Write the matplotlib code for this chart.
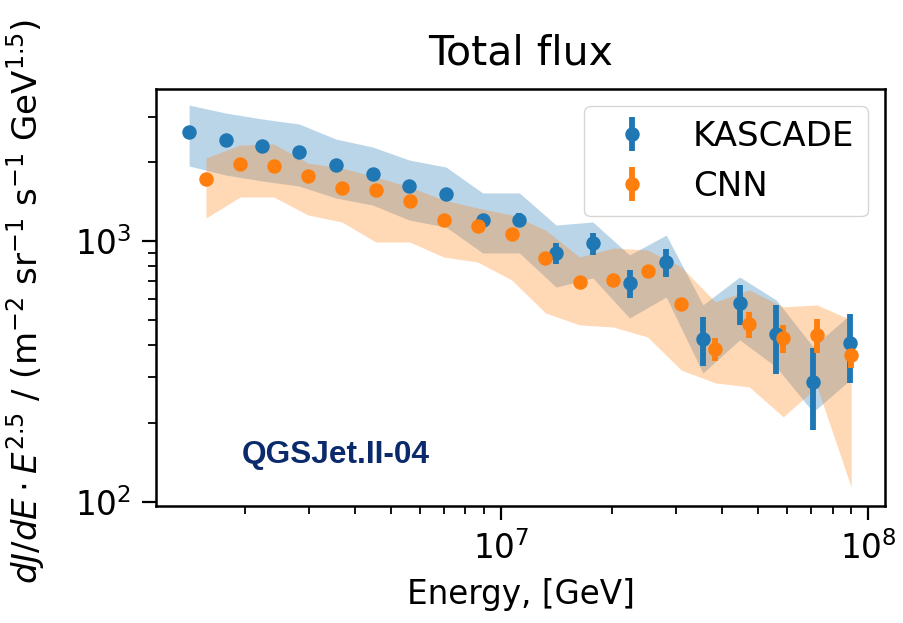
import numpy as np
import matplotlib.pyplot as plt

# lg(E/GeV) bin centres
lgE_kascade = [6.15, 6.25, 6.35, 6.45, 6.55, 6.65, 6.75, 6.85, 6.95, 7.05,
               7.15, 7.25, 7.35, 7.45, 7.55, 7.65, 7.75, 7.85, 7.95]
lgE_cnn = [6.196, 6.289, 6.381, 6.474, 6.566, 6.659, 6.751, 6.844, 6.936, 7.029,
           7.121, 7.214, 7.306, 7.399, 7.491, 7.584, 7.676, 7.769, 7.861, 7.954]

# E^2.5-weighted total flux
flux_kascade = [2617, 2438, 2312, 2193, 1955, 1806, 1624, 1514, 1203, 1203,
                899, 982, 690, 831, 421, 578, 440, 288, 406]
err_kascade = [30, 30, 30, 30, 30, 30, 30, 35, 60, 75,
               80, 95, 87, 105, 90, 100, 130, 100, 120]
sys_lo_kascade = [1938, 1790, 1698, 1624, 1461, 1374, 1203, 1131, 900, 900,
                  666, 722, 507, 610, 312, 418, 329, 221, 293]
sys_hi_kascade = [3319, 3093, 2934, 2808, 2459, 2292, 2043, 1921, 1528, 1528,
                  1151, 1183, 884, 1054, 569, 728, 594, 393, 521]

flux_cnn = [1728, 1972, 1938, 1774, 1596, 1568, 1423, 1203, 1141, 1064,
            861, 696, 709, 767, 574, 386, 481, 425, 436, 366]
err_cnn = [20, 20, 20, 20, 20, 20, 20, 20, 20, 20,
           20, 20, 20, 20, 25, 38, 55, 52, 65, 40]
sys_lo_cnn = [1225, 1474, 1474, 1258, 1183, 991, 991, 868, 831, 709,
              530, 477, 468, 429, 320, 286, 276, 212, 276, 114]
sys_hi_cnn = [2080, 2332, 2353, 1990, 1904, 1759, 1610, 1436, 1338, 1258,
              1102, 868, 940, 924, 795, 584, 649, 559, 569, 498]

E_kascade = 10 ** np.array(lgE_kascade)
E_cnn = 10 ** np.array(lgE_cnn)

plt.rcParams['font.size'] = 23.5
plt.rcParams['axes.linewidth'] = 1.8

fig = plt.figure(figsize=(9.04, 6.23), dpi=100)
ax = fig.add_subplot(111)
fig.subplots_adjust(left=0.1726, right=0.979, bottom=0.1878, top=0.857)

ax.fill_between(E_kascade, sys_lo_kascade, sys_hi_kascade, color='C0', alpha=0.3, lw=0)
ax.fill_between(E_cnn, sys_lo_cnn, sys_hi_cnn, color='C1', alpha=0.3, lw=0)
ax.errorbar(E_kascade, flux_kascade, yerr=err_kascade, fmt='o', ms=9.4,
            elinewidth=4.2, color='C0', label='KASCADE')
ax.errorbar(E_cnn, flux_cnn, yerr=err_cnn, fmt='o', ms=9.4,
            elinewidth=4.2, color='C1', label='CNN')

ax.set_xscale('log')
ax.set_yscale('log')
ax.set_xlim(1.148e6, 1.112e8)
ax.set_ylim(96.5, 3821)

ax.tick_params(which='major', length=10, width=1.6, pad=8)
ax.tick_params(which='minor', length=6, width=1.3)

ax.set_title('Total flux', pad=18, fontsize=29.5)
ax.set_xlabel('Energy, [GeV]', labelpad=9)
ax.set_ylabel(r'$dJ/dE \cdot E^{2.5}$ / (m$^{-2}$ sr$^{-1}$ s$^{-1}$ GeV$^{1.5}$)',
              fontsize=24.5)
ax.yaxis.set_label_coords(-0.149, 0.49)

ax.text(0.117, 0.103, 'QGSJet.II-04', transform=ax.transAxes,
        family='Liberation Sans', weight='bold', fontsize=22.8,
        color='#0b2a6b', ha='left', va='baseline')

ax.legend(loc='upper right', fontsize=24.5)

fig.savefig('out.png', dpi=100)
